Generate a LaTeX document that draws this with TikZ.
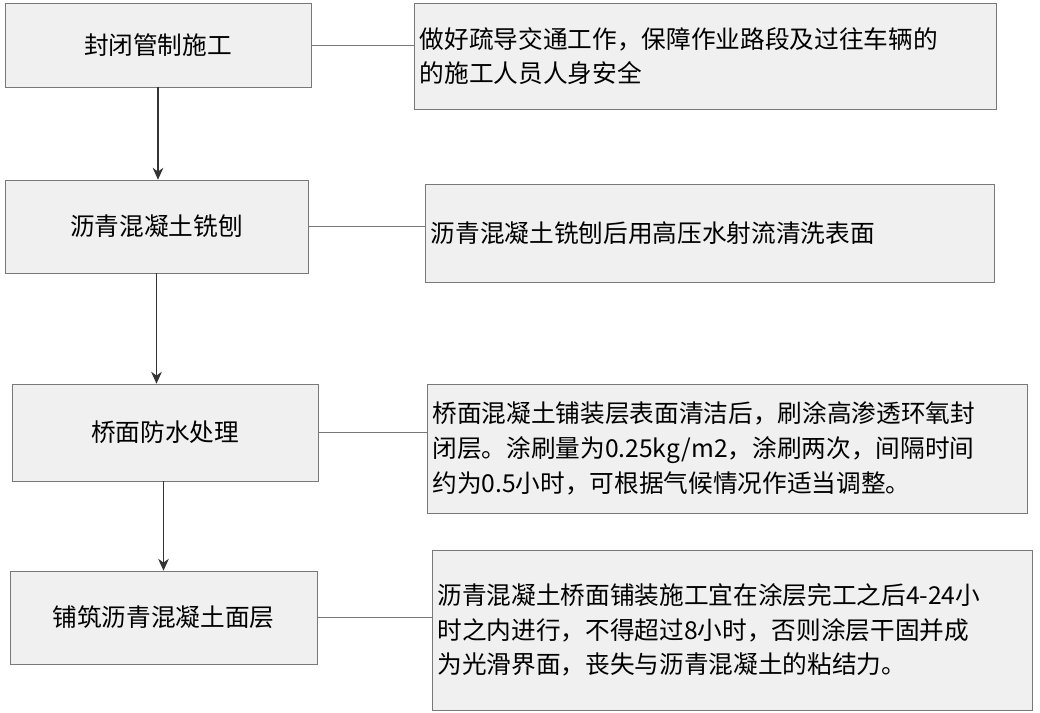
\documentclass[tikz,border=0pt]{standalone}
\usepackage{fontspec}
\setmainfont{Noto Sans CJK SC}
\usetikzlibrary{arrows.meta, positioning}
\definecolor{boxfill}{RGB}{240,240,240}
\definecolor{boxline}{RGB}{120,120,120}

\tikzset{
    stepbox/.style={draw=boxline, fill=boxfill, font=\fontsize{18.5pt}{22pt}\selectfont},
    notebox/.style={draw=boxline, fill=boxfill, align=left, inner xsep=4pt,
        font=\fontsize{18.5pt}{26pt}\selectfont},
    flow/.style={-{Stealth[length=9pt,width=8pt]}, thick, black!80},
    link/.style={boxline}
}

\begin{document}
\begin{tikzpicture}[x=0.75pt, y=-0.75pt]
    \useasboundingbox (0,0) rectangle (1040,713);

    % Steps
    \node[stepbox, minimum width=229.5pt, minimum height=63pt] (seal) at (158,45) {封闭管制施工};
    \node[stepbox, minimum width=227.25pt, minimum height=69.75pt] (mill) at (156.5,226.5) {沥青混凝土铣刨};
    \node[stepbox, minimum width=229.5pt, minimum height=72.75pt] (proof) at (165,432.5) {桥面防水处理};
    \node[stepbox, minimum width=230.25pt, minimum height=69.75pt] (pave) at (163.5,617.5) {铺筑沥青混凝土面层};

    % Notes
    \node[notebox, minimum width=436.5pt, minimum height=79.5pt, text width=428pt] (sealnote) at (705,56)
        {做好疏导交通工作，保障作业路段及过往车辆的\\的施工人员人身安全\\[6pt]};
    \node[notebox, minimum width=426.75pt, minimum height=73.5pt, text width=418pt] (millnote) at (709.5,233)
        {沥青混凝土铣刨后用高压水射流清洗表面};
    \node[notebox, minimum width=450pt, minimum height=96.75pt, text width=442pt] (proofnote) at (727,448.5)
        {桥面混凝土铺装层表面清洁后，刷涂高渗透环氧封\\闭层。涂刷量为0.25kg/m2，涂刷两次，间隔时间\\约为0.5小时，可根据气候情况作适当调整。};
    \node[notebox, minimum width=450pt, minimum height=120pt, text width=442pt] (pavenote) at (732,630)
        {沥青混凝土桥面铺装施工宜在涂层完工之后4-24小\\时之内进行，不得超过8小时，否则涂层干固并成\\为光滑界面，丧失与沥青混凝土的粘结力。};

    % Flow
    \draw[flow] (seal.south) -- (seal.south |- mill.north);
    \draw[flow] (mill.south) -- (mill.south |- proof.north);
    \draw[flow] (proof.south -| pave.north) -- (pave.north);

    % Links to notes
    \draw[link] (seal.east) -- (seal.east -| sealnote.west);
    \draw[link] (mill.east) -- (mill.east -| millnote.west);
    \draw[link] (proof.east) -- (proof.east -| proofnote.west);
    \draw[link] (pave.east) -- (pave.east -| pavenote.west);
\end{tikzpicture}
\end{document}
